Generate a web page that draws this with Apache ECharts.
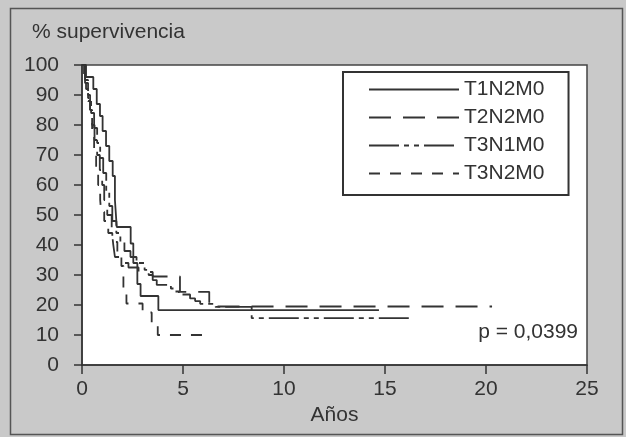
<!DOCTYPE html>
<html>
<head>
<meta charset="utf-8">
<script src="https://cdn.jsdelivr.net/npm/echarts@6/dist/echarts.min.js"></script>
<style>
html,body{margin:0;padding:0;background:#c9c9c9;}
#chart{width:626px;height:437px;}
</style>
</head>
<body>
<div id="chart"></div>
<script>
// Kaplan-Meier survival data (years, % survival)
const seriesNames = ['T1N2M0', 'T2N2M0', 'T3N1M0', 'T3N2M0'];
const t1n2m0 = [[0,100],[0.2,96],[0.56,92],[0.73,87],[0.89,83],[1.02,78],[1.19,73],[1.35,68],[1.52,63],[1.63,55],[1.72,46],[2.41,40.5],[2.54,34],[2.74,27],[2.9,23],[3.78,18.3],[14.7,18.3]];
const t2n2m0 = [[0,100],[0.15,95],[0.3,90],[0.4,85],[0.5,80],[0.62,75],[0.75,70],[0.88,65],[1.0,60],[1.1,55],[1.25,50],[1.47,45],[1.55,40],[1.63,36],[1.9,34],[2.3,32.5],[2.8,31],[3.5,29.5],[4.85,24.4],[6.3,19.5],[20.3,19.5]];
const t3n1m0 = [[0,100],[0.15,94],[0.3,89],[0.45,84],[0.6,79],[0.75,74],[0.9,69],[1.05,64],[1.2,58],[1.35,53],[1.5,48],[1.7,44],[1.9,41],[2.1,38],[2.4,36],[2.7,34],[3.1,31.7],[3.3,30],[3.5,28.3],[3.7,26.7],[4.4,25.5],[4.6,24.5],[4.8,23.5],[5.35,22.2],[5.6,21.3],[5.85,20.4],[6.6,19.4],[8.4,15.6],[16.2,15.6]];
const t3n2m0 = [[0,100],[0.1,96],[0.2,92],[0.3,88],[0.4,83],[0.5,78],[0.6,72],[0.7,66],[0.8,60],[0.9,55],[0.95,51],[1.1,48],[1.3,44],[1.5,41],[1.75,37],[1.95,33],[2.05,25],[2.2,20.5],[3.0,17.5],[3.45,14],[3.75,10],[6.4,10]];
const xTicks = [0, 5, 10, 15, 20, 25];
const yTicks = [0, 10, 20, 30, 40, 50, 60, 70, 80, 90, 100];
const pValueText = 'p = 0,0399';
const yTitle = '% supervivencia';
const xTitle = 'Años';

const ink = '#333333';
const font = 'Liberation Sans, Arial, Helvetica, sans-serif';
const dashStyles = ['solid', [22, 12], [30, 5, 5, 5, 5, 5], [11, 10]];
const allData = [t1n2m0, t2n2m0, t3n1m0, t3n2m0];

const chart = echarts.init(document.getElementById('chart'), null, {renderer: 'canvas'});
chart.setOption({
  animation: false,
  backgroundColor: '#c9c9c9',
  textStyle: {fontFamily: font},
  title: {
    text: yTitle, left: 32, top: 22, padding: 0,
    textStyle: {fontSize: 21, fontWeight: 'normal', color: ink, fontFamily: font}
  },
  grid: {
    left: 82, right: 39, top: 65, bottom: 72,
    show: true, backgroundColor: '#ffffff', borderColor: '#444', borderWidth: 1.5
  },
  legend: {
    data: seriesNames,
    orient: 'vertical',
    left: 343, top: 72,
    padding: [7, 24, 11, 25],
    itemWidth: 90, itemHeight: 14, itemGap: 7,
    backgroundColor: '#ffffff', borderColor: '#333', borderWidth: 2, borderRadius: 0,
    itemStyle: {opacity: 0},
    textStyle: {fontSize: 21, color: ink, fontFamily: font},
    inactiveColor: ink
  },
  xAxis: {
    type: 'value', min: xTicks[0], max: xTicks[xTicks.length - 1], interval: 5,
    name: xTitle, nameLocation: 'middle', nameGap: 33,
    nameTextStyle: {fontSize: 21, color: ink, fontFamily: font},
    axisLine: {show: true, lineStyle: {color: ink, width: 1.5}},
    axisTick: {show: true, length: 9, lineStyle: {color: ink, width: 1.5}},
    axisLabel: {fontSize: 21, color: ink, margin: 14, fontFamily: font},
    splitLine: {show: false}
  },
  yAxis: {
    type: 'value', min: yTicks[0], max: yTicks[yTicks.length - 1], interval: 10,
    axisLine: {show: true, lineStyle: {color: ink, width: 1.5}},
    axisTick: {show: true, length: 8, lineStyle: {color: ink, width: 1.5}},
    axisLabel: {fontSize: 21, color: ink, margin: 23, fontFamily: font},
    splitLine: {show: false}
  },
  graphic: [
    {type: 'rect', z: 100, silent: true, shape: {x: 10.5, y: 8.5, width: 612, height: 426},
     style: {fill: 'none', stroke: '#555', lineWidth: 1.5}},
    {type: 'text', z: 100, right: 48, top: 322,
     style: {text: pValueText, font: '21px ' + font, fill: ink}}
  ],
  series: seriesNames.map((name, i) => ({
    name: name,
    type: 'line',
    step: 'end',
    symbol: 'none',
    data: allData[i],
    color: ink,
    lineStyle: {color: ink, width: 1.8, type: dashStyles[i]}
  }))
});
</script>
</body>
</html>
